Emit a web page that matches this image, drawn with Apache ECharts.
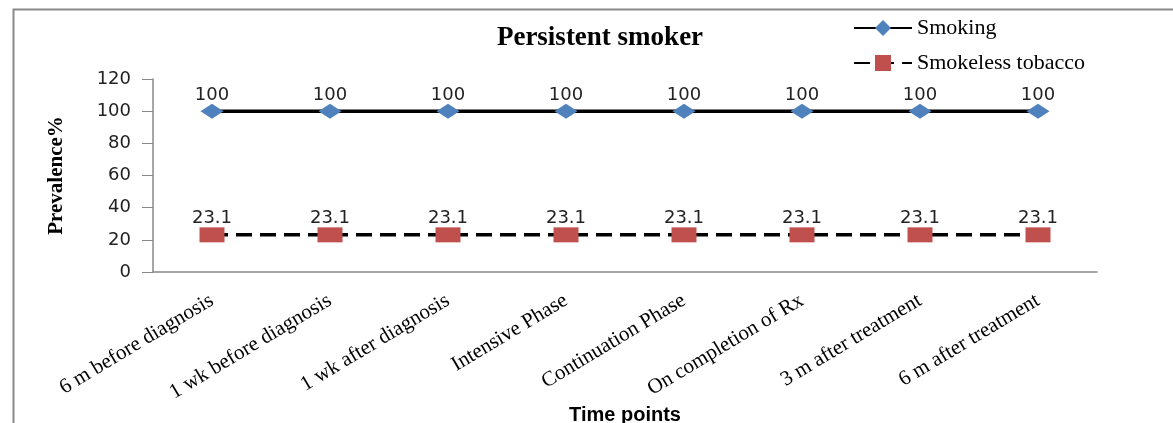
<!DOCTYPE html>
<html>
<head>
<meta charset="utf-8">
<script src="https://cdn.jsdelivr.net/npm/echarts@6/dist/echarts.min.js"></script>
<style>
html,body{margin:0;padding:0;background:#fff;}
#chart{width:1173px;height:423px;}
</style>
</head>
<body>
<div id="chart"></div>
<script>
var categories = ["6 m before diagnosis", "1 wk before diagnosis", "1 wk after diagnosis", "Intensive Phase", "Continuation Phase", "On completion of Rx", "3 m after treatment", "6 m after treatment"];
var smoking = [100, 100, 100, 100, 100, 100, 100, 100];
var smokeless = [23.1, 23.1, 23.1, 23.1, 23.1, 23.1, 23.1, 23.1];
var seriesNames = ["Smoking", "Smokeless tobacco"];
var titleText = "Persistent smoker";
var yAxisName = "Prevalence%";
var xAxisName = "Time points";

var chart = echarts.init(document.getElementById('chart'));
var labelFont = {fontFamily: 'DejaVu Sans', fontSize: 18, color: '#222'};
chart.setOption({
  animation: false,
  backgroundColor: '#fff',
  graphic: [{
    type: 'rect', left: 11, top: 7, silent: true,
    shape: {width: 1220, height: 480},
    style: {fill: 'none', stroke: '#8a8a8a', lineWidth: 2}
  }],
  title: {
    text: titleText, left: 595, top: 20, textAlign: 'center',
    textStyle: {fontFamily: 'Liberation Serif', fontWeight: 'bold', fontSize: 27, color: '#000'}
  },
  legend: {
    orient: 'vertical', left: 848, top: 12, itemWidth: 58, itemHeight: 20, itemGap: 13,
    textStyle: {fontFamily: 'Liberation Serif', fontSize: 22, color: '#000'},
    data: seriesNames
  },
  grid: {left: 153, right: 76, top: 79, bottom: 151, outerBoundsMode: 'none', containLabel: false},
  xAxis: {
    type: 'category', data: categories, boundaryGap: true,
    name: xAxisName, nameLocation: 'middle', nameGap: 127,
    nameTextStyle: {fontFamily: 'Liberation Sans', fontWeight: 'bold', fontSize: 20, color: '#000'},
    axisLine: {lineStyle: {color: '#888', width: 1.5}},
    axisTick: {show: false},
    axisLabel: {rotate: 31, margin: 27, interval: 0, fontFamily: 'Liberation Serif', fontSize: 21, color: '#000'}
  },
  yAxis: {
    type: 'value', min: 0, max: 120, interval: 20,
    name: yAxisName, nameLocation: 'middle', nameGap: 86,
    nameTextStyle: {fontFamily: 'Liberation Serif', fontWeight: 'bold', fontSize: 21, color: '#000', padding: [0, 0, 0, 0]},
    axisLine: {show: true, lineStyle: {color: '#888', width: 1.5}},
    axisTick: {show: true, length: 11, lineStyle: {color: '#888'}},
    splitLine: {show: false},
    axisLabel: {margin: 22, fontFamily: 'DejaVu Sans', fontSize: 18, color: '#222'}
  },
  series: [{
    name: seriesNames[0], type: 'line', data: smoking,
    symbol: 'diamond', symbolSize: [23, 15],
    itemStyle: {color: '#4F81BD'},
    lineStyle: {color: '#000', width: 3.5},
    label: Object.assign({show: true, position: 'top', distance: -1}, labelFont)
  }, {
    name: seriesNames[1], type: 'line', data: smokeless,
    symbol: 'rect', symbolSize: [25, 15],
    itemStyle: {color: '#C0504D'},
    lineStyle: {color: '#000', width: 3.5, type: [16, 8]},
    label: Object.assign({show: true, position: 'top', distance: 0, formatter: function(p){return p.value.toFixed(1);}}, labelFont)
  }]
});
</script>
</body>
</html>
